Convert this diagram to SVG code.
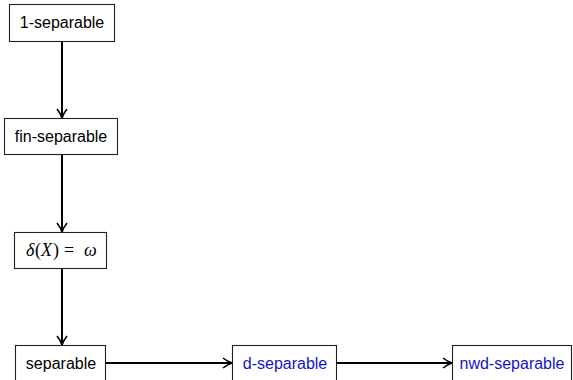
<svg xmlns="http://www.w3.org/2000/svg" width="573" height="380" viewBox="0 0 573 380">
  <style>
    .box { fill: #ffffff; stroke: #222222; stroke-width: 1.1; }
    .lbl { font-family: "Liberation Sans", Arial, sans-serif; font-size: 16px; text-anchor: middle; fill: #000000; }
    .blue { fill: #1414c8; }
    .math { font-family: "Liberation Serif", "Times New Roman", serif; font-size: 18px; fill: #000000; }
    .it { font-style: italic; }
    .edge { stroke: #000000; stroke-width: 2; fill: none; marker-end: url(#tip); }
  </style>
  <defs>
    <marker id="tip" viewBox="0 0 12 12" refX="10.5" refY="6" markerWidth="12" markerHeight="12" markerUnits="userSpaceOnUse" orient="auto">
      <path d="M1.5,1 Q6,4.6 10.5,6 Q6,7.4 1.5,11" fill="none" stroke="#000000" stroke-width="1.6"/>
    </marker>
  </defs>
  <rect width="573" height="380" fill="#ffffff"/>

  <g id="connectors">
    <line class="edge" x1="62" y1="42" x2="62" y2="118"/>
    <line class="edge" x1="62" y1="155" x2="62" y2="232"/>
    <line class="edge" x1="62" y1="269" x2="62" y2="345"/>
    <line class="edge" x1="106" y1="363" x2="232" y2="363"/>
    <line class="edge" x1="337" y1="363" x2="452" y2="363"/>
  </g>

  <g id="one-separable">
    <rect class="box" x="9.5" y="4.5" width="105" height="37"/>
    <text class="lbl" x="62" y="28">1-separable</text>
  </g>

  <g id="fin-separable">
    <rect class="box" x="4.5" y="118.5" width="113" height="36"/>
    <text class="lbl" x="61" y="142">fin-separable</text>
  </g>

  <g id="delta-omega">
    <rect class="box" x="14.5" y="232.5" width="92" height="36"/>
    <text class="math" y="256"><tspan class="it" x="26">δ</tspan><tspan x="35">(</tspan><tspan class="it" x="41">X</tspan><tspan x="53">)</tspan><tspan x="64">=</tspan><tspan class="it" x="84">ω</tspan></text>
  </g>

  <g id="separable">
    <rect class="box" x="15.5" y="345.5" width="90" height="40"/>
    <text class="lbl" x="61" y="369">separable</text>
  </g>

  <g id="d-separable">
    <rect class="box" x="232.5" y="345.5" width="104" height="40"/>
    <text class="lbl blue" x="285" y="369">d-separable</text>
  </g>

  <g id="nwd-separable">
    <rect class="box" x="452.5" y="345.5" width="119" height="40"/>
    <text class="lbl blue" x="512" y="369">nwd-separable</text>
  </g>
</svg>
